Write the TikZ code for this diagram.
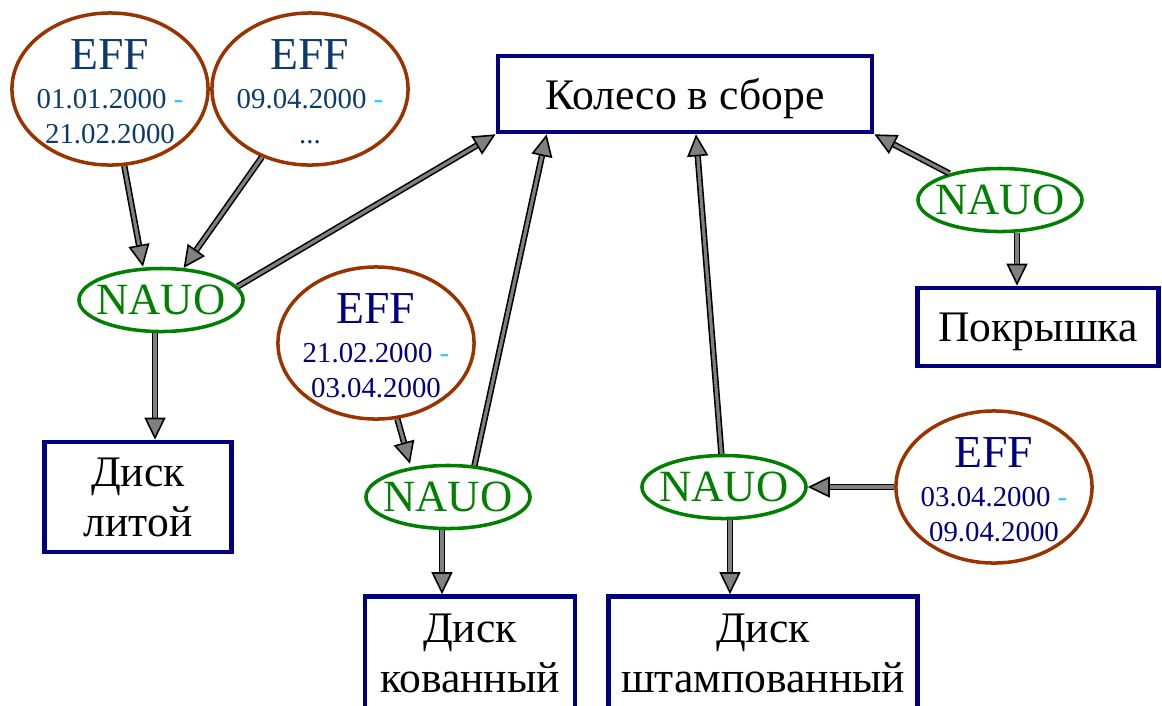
\documentclass[tikz,border=0pt]{standalone}
\usepackage{fontspec}
\setmainfont{Liberation Serif}
\usetikzlibrary{shapes, arrows.meta, positioning, calc}
\definecolor{effbrown}{HTML}{993300}
\definecolor{efftext}{HTML}{0B3A6E}
\definecolor{navyblue}{HTML}{000080}
\definecolor{nauogreen}{HTML}{008000}
\definecolor{dashcyan}{HTML}{22CCFF}
\tikzstyle{eff} = [ellipse, minimum width=1.96cm, minimum height=1.52cm, inner xsep=-0.1cm, inner ysep=-0.1cm, draw=effbrown, line width=1pt, align=center, text=navyblue, text height=31pt, font=\fontsize{8.2}{10}\selectfont]
\tikzstyle{nauo} = [ellipse, minimum width=1.64cm, minimum height=0.63cm, inner xsep=-0.1cm, inner ysep=0pt, draw=nauogreen, line width=1pt, text=nauogreen, font=\fontsize{12.7}{14}\selectfont]
\tikzstyle{part} = [rectangle, draw=navyblue, line width=1.3pt, align=center, inner sep=0pt, text depth=0pt, font=\fontsize{12.4}{14.2}\selectfont]
\tikzstyle{link} = [draw=black, line width=0.45pt, double=gray, double distance=0.9pt, -{Triangle[length=0.22cm, width=0.21cm, fill=gray]}]
\newcommand{\effhead}{{\fontsize{13}{14}\selectfont EFF}\\[1.1pt]}
\newcommand{\todash}{ \textcolor{dashcyan}{-}}

\begin{document}
\begin{tikzpicture}[x=0.01cm, y=-0.01cm]
\useasboundingbox (0,0) rectangle (1162,705);
\node (eff1) [eff, text=efftext] at (110,89) {\effhead 01.01.2000\todash\\21.02.2000};
\node (eff2) [eff, text=efftext] at (310,89) {\effhead 09.04.2000\todash\\...};
\node (whole) [part, minimum width=3.74cm, minimum height=0.76cm] at (685,94) {Колесо в сборе};
\node (nauoL) [nauo] at (161,300) {NAUO};
\node (litoy) [part, minimum width=1.87cm, minimum height=1.1cm] at (138,497) {Диск\\литой};
\node (eff3) [eff] at (376,343) {\effhead 21.02.2000\todash\\03.04.2000};
\node (nauoM) [nauo] at (448,497) {NAUO};
\node (kovan) [part, minimum width=2.1cm, minimum height=1.13cm] at (470,653) {Диск\\кованный};
\node (nauoRB) [nauo] at (724,487) {NAUO};
\node (eff4) [eff] at (994,487) {\effhead 03.04.2000\todash\\09.04.2000};
\node (shtamp) [part, minimum width=3.09cm, minimum height=1.13cm] at (763,653) {Диск\\штампованный};
\node (nauoTR) [nauo] at (1000,200) {NAUO};
\node (pokr) [part, minimum width=2.41cm, minimum height=0.78cm] at (1038,327) {Покрышка};
\draw [link] (eff1) -- ([xshift=-0.18cm]nauoL.north);
\draw [link] (eff2) -- (nauoL);
\draw [link] (nauoL.10) -- (whole.south west);
\draw [link] ([xshift=-0.06cm]nauoL.south) -- ([xshift=-0.06cm]nauoL.south |- litoy.north);
\draw [link] (eff3) -- ([xshift=-0.38cm]nauoM.north);
\draw [link] (nauoM.50) -- ([xshift=0.51cm]whole.south west);
\draw [link] ([xshift=-0.06cm]nauoM.south) -- ([xshift=-0.06cm]nauoM.south |- kovan.north);
\draw [link] (nauoRB) -- ([xshift=0.11cm]whole.south);
\draw [link] ([xshift=0.06cm]nauoRB.south) -- ([xshift=0.06cm]nauoRB.south |- shtamp.north);
\draw [link] (eff4) -- (nauoRB);
\draw [link] (nauoTR) -- (whole.south east);
\draw [link] ([xshift=0.17cm]nauoTR.south) -- ([xshift=0.17cm]nauoTR.south |- pokr.north);
\end{tikzpicture}
\end{document}
